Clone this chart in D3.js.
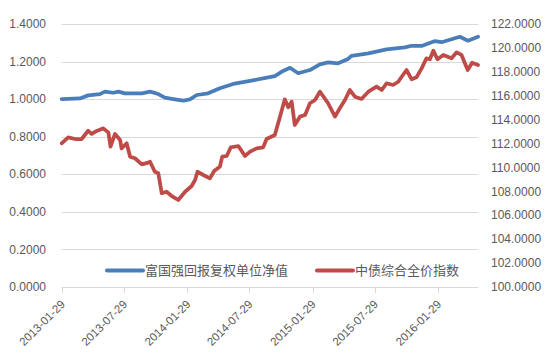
<!DOCTYPE html>
<html>
<head>
<meta charset="utf-8">
<script src="https://cdn.jsdelivr.net/npm/d3@7/dist/d3.min.js"></script>
<style>
  html, body { margin: 0; padding: 0; background: #fff; }
  svg { display: block; }
</style>
</head>
<body>
<svg id="chart" width="548" height="356"></svg>
<script>
// ---- Data ----
const seriesNames = ["富国强回报复权单位净值", "中债综合全价指数"];

const fundDates = ["2013-01-29","2013-03-23","2013-04-16","2013-05-20","2013-06-04","2013-06-28","2013-07-13","2013-08-01","2013-09-19","2013-10-13","2013-11-06","2013-11-25","2013-12-24","2014-01-18","2014-02-06","2014-02-26","2014-03-31","2014-05-04","2014-06-12","2014-07-31","2014-10-11","2014-11-04","2014-11-24","2014-12-18","2015-01-21","2015-02-19","2015-03-15","2015-04-13","2015-05-12","2015-05-22","2015-07-10","2015-09-01","2015-10-24","2015-11-13","2015-12-12","2016-01-20","2016-02-08","2016-04-01","2016-04-25","2016-05-24"];
const fundValues = [1.000,1.004,1.020,1.027,1.040,1.034,1.040,1.031,1.031,1.040,1.027,1.008,0.999,0.992,0.999,1.022,1.031,1.058,1.081,1.097,1.123,1.150,1.167,1.138,1.155,1.185,1.196,1.191,1.214,1.230,1.244,1.265,1.276,1.284,1.283,1.309,1.303,1.332,1.311,1.332];

const indexDates = ["2013-01-29","2013-02-17","2013-03-09","2013-03-28","2013-04-16","2013-04-26","2013-05-11","2013-05-30","2013-06-14","2013-06-20","2013-07-03","2013-07-18","2013-07-22","2013-08-06","2013-08-16","2013-08-30","2013-09-19","2013-10-08","2013-10-13","2013-10-27","2013-11-06","2013-11-16","2013-11-30","2013-12-15","2014-01-03","2014-01-23","2014-02-11","2014-02-21","2014-02-28","2014-03-17","2014-04-05","2014-04-18","2014-05-04","2014-05-11","2014-05-24","2014-06-05","2014-06-27","2014-07-16","2014-07-31","2014-08-19","2014-09-07","2014-09-17","2014-10-11","2014-10-26","2014-11-09","2014-11-19","2014-11-29","2014-12-08","2014-12-23","2015-01-07","2015-01-21","2015-02-05","2015-02-19","2015-03-15","2015-04-04","2015-04-18","2015-05-03","2015-05-17","2015-06-01","2015-06-20","2015-07-10","2015-08-03","2015-08-18","2015-09-01","2015-09-20","2015-10-05","2015-10-15","2015-10-29","2015-11-13","2015-11-27","2015-12-12","2015-12-26","2016-01-05","2016-01-15","2016-01-27","2016-02-13","2016-03-08","2016-03-23","2016-04-06","2016-04-24","2016-05-07","2016-05-24"];
const indexValues = [112.02,112.52,112.38,112.38,113.07,112.80,113.05,113.27,112.91,111.74,112.80,112.30,111.60,112.02,110.90,110.77,110.26,110.40,110.48,109.64,109.51,107.84,107.97,107.61,107.28,107.97,108.45,108.95,109.64,109.37,109.09,109.73,110.06,110.90,110.96,111.69,111.79,110.96,111.32,111.60,111.68,112.38,112.71,114.25,115.70,115.03,115.50,113.55,114.25,114.39,115.37,115.64,116.34,115.37,114.25,114.95,115.64,116.48,115.92,115.73,116.34,116.76,116.48,117.04,116.90,117.17,117.59,118.15,117.37,117.54,118.29,119.13,119.05,119.77,119.05,119.41,119.13,119.63,119.41,118.15,118.76,118.57];

const xTickLabels = ["2013-01-29","2013-07-29","2014-01-29","2014-07-29","2015-01-29","2015-07-29","2016-01-29"];
const leftTicks = [0, 0.2, 0.4, 0.6, 0.8, 1.0, 1.2, 1.4];
const rightTicks = [100,102,104,106,108,110,112,114,116,118,120,122];
const xDomain = ["2013-01-29", "2016-05-24"];

// ---- Layout ----
const svg = d3.select("#chart");
const parse = d3.utcParse("%Y-%m-%d");
const plotLeft = 61.7, plotRight = 478, plotTop = 24, plotBottom = 287;
const textColor = "#595959", gridColor = "#d9d9d9";
const blue = "#4a7ebb", red = "#be4b48";

const x = d3.scaleUtc().domain(xDomain.map(parse)).range([plotLeft, plotRight]);
const yL = d3.scaleLinear().domain([0, 1.4]).range([plotBottom, plotTop]);
const yR = d3.scaleLinear().domain([100, 122]).range([plotBottom, plotTop]);

// gridlines
svg.append("g").selectAll("line").data(leftTicks).join("line")
  .attr("x1", plotLeft).attr("x2", plotRight)
  .attr("y1", d => Math.round(yL(d)) + 0.5).attr("y2", d => Math.round(yL(d)) + 0.5)
  .attr("stroke", gridColor).attr("stroke-width", 1);

// left axis labels
svg.append("g").selectAll("text").data(leftTicks).join("text")
  .attr("x", 46).attr("y", d => yL(d)).attr("dy", "0.35em")
  .attr("text-anchor", "end")
  .attr("font-family", "Liberation Sans, Arial, sans-serif").attr("font-size", 12)
  .attr("fill", textColor)
  .text(d => d3.format(".4f")(d));

// right axis labels
svg.append("g").selectAll("text").data(rightTicks).join("text")
  .attr("x", 491).attr("y", d => yR(d)).attr("dy", "0.35em")
  .attr("text-anchor", "start")
  .attr("font-family", "Liberation Sans, Arial, sans-serif").attr("font-size", 12)
  .attr("fill", textColor)
  .text(d => d3.format(".4f")(d));

// x axis ticks
const xTicks = xTickLabels.map(parse);
svg.append("g").selectAll("line").data(xTicks).join("line")
  .attr("x1", d => Math.round(x(d)) + 0.5).attr("x2", d => Math.round(x(d)) + 0.5)
  .attr("y1", plotBottom).attr("y2", plotBottom + 6)
  .attr("stroke", gridColor).attr("stroke-width", 1);

svg.append("g").selectAll("text").data(xTickLabels).join("text")
  .attr("transform", d => `translate(${x(parse(d)) + 4},${plotBottom + 18}) rotate(-45)`)
  .attr("text-anchor", "end")
  .attr("font-family", "Liberation Sans, Arial, sans-serif").attr("font-size", 11.5)
  .attr("fill", textColor)
  .text(d => d);

// lines
const fundData = fundDates.map((d, i) => ({ date: parse(d), v: fundValues[i] }));
const indexData = indexDates.map((d, i) => ({ date: parse(d), v: indexValues[i] }));

svg.append("path").datum(fundData)
  .attr("fill", "none").attr("stroke", blue).attr("stroke-width", 3.75)
  .attr("stroke-linejoin", "round").attr("stroke-linecap", "round")
  .attr("d", d3.line().x(d => x(d.date)).y(d => yL(d.v)));

svg.append("path").datum(indexData)
  .attr("fill", "none").attr("stroke", red).attr("stroke-width", 3.75)
  .attr("stroke-linejoin", "round").attr("stroke-linecap", "round")
  .attr("d", d3.line().x(d => x(d.date)).y(d => yR(d.v)));

// legend
const legendY = 270.5;
const legendItems = [
  { name: seriesNames[0], color: blue, x0: 107 },
  { name: seriesNames[1], color: red, x0: 317 }
];
const lg = svg.append("g");
legendItems.forEach(it => {
  lg.append("line").attr("x1", it.x0).attr("x2", it.x0 + 36)
    .attr("y1", legendY).attr("y2", legendY)
    .attr("stroke", it.color).attr("stroke-width", 4).attr("stroke-linecap", "round");
  lg.append("text").attr("x", it.x0 + 38).attr("y", legendY).attr("dy", "0.38em")
    .attr("font-family", "Noto Sans CJK SC, sans-serif").attr("font-size", 13)
    .attr("fill", textColor).text(it.name);
});
</script>
</body>
</html>
